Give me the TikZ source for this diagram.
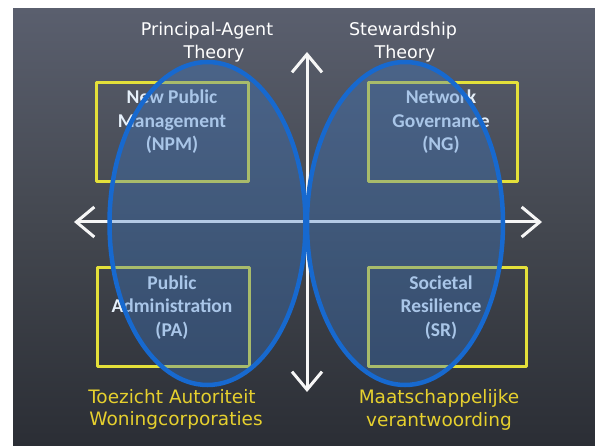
\documentclass[tikz,border=0pt]{standalone}
\usepackage{fontspec}
\setmainfont{Carlito}
\newfontfamily\chalkfont{DejaVu Sans}
\usetikzlibrary{arrows.meta,shapes.geometric}
\definecolor{boardtop}{HTML}{5A5F6E}
\definecolor{boardmid}{HTML}{43474F}
\definecolor{boardbot}{HTML}{2B2E35}
\definecolor{chalkyellow}{HTML}{E4E03A}
\definecolor{labelyellow}{HTML}{E6D02E}
\definecolor{ovalblue}{HTML}{1769CF}
\definecolor{ovalfill}{HTML}{3A78C8}
\definecolor{boxtext}{HTML}{E6F0FA}
\tikzset{
  quad/.style={draw=chalkyellow, line width=3pt, line join=round, inner sep=0pt, outer sep=0pt},
  quadtext/.style={text=boxtext, align=center, inner sep=0pt, font=\fontsize{19.5}{23.5}\selectfont\bfseries},
  theory/.style={text=white, inner sep=0pt, font=\chalkfont\fontsize{17.5}{20}\selectfont},
  society/.style={text=labelyellow, inner sep=0pt, font=\chalkfont\fontsize{18.5}{20}\selectfont},
  axis/.style={draw=white!93!gray, line width=3pt,
    {Straight Barb[length=18pt,width=30pt,line width=3pt]}-{Straight Barb[length=18pt,width=30pt,line width=3pt]}},
  oval/.style={ellipse, draw=ovalblue, line width=4.5pt, fill=ovalfill, fill opacity=0.35, inner sep=0pt, outer sep=0pt,
    minimum width=196pt, minimum height=323pt},
}
\begin{document}
\begin{tikzpicture}[x=1pt,y=-1pt]
\useasboundingbox (0,0) rectangle (595,446);
\fill[white] (0,0) rectangle (595,446);
\shade[top color=boardtop, bottom color=boardbot, middle color=boardmid] (13,9) rectangle (595,446);

% axes
\coordinate (hl) at (74,222);
\coordinate (hr) at (542,222);
\coordinate (vt) at (307,52);
\coordinate (vb) at (307,392);
\draw[axis] (hl) -- (hr);
\draw[axis] (vb) -- (vt);

% quadrant boxes
\node[quad, minimum width=152pt, minimum height=99pt] (npm) at (172,132.5) {};
\node[quad, minimum width=149pt, minimum height=99pt] (ng) at (442.5,132.5) {};
\node[quad, minimum width=152pt, minimum height=99pt] (pa) at (173,317.5) {};
\node[quad, minimum width=158pt, minimum height=99pt] (sr) at (447,317.5) {};

\node[quadtext] (npmt) at (172,122) {New Public\\Management\\(NPM)};
\node[quadtext] (ngt) at (441,122) {Network\\Governance\\(NG)};
\node[quadtext] (pat) at (172,307.5) {Public\\Administration\\(PA)};
\node[quadtext] (srt) at (441,307.5) {Societal\\Resilience\\(SR)};

% ovals
\node[oval] (left) at (207.5,223.5) {};
\node[oval] (right) at (405,223.5) {};

% titles
\node[theory] (pa1) at (207,31) {Principal-Agent};
\node[theory] (pa2) at (214,54) {Theory};
\node[theory] (st1) at (403,31) {Stewardship};
\node[theory] (st2) at (405,54) {Theory};

\node[society] (ta1) at (172,397) {Toezicht Autoriteit};
\node[society] (ta2) at (176,420) {Woningcorporaties};
\node[society] (mv1) at (439,398) {Maatschappelijke};
\node[society] (mv2) at (439,421) {verantwoording};
\end{tikzpicture}
\end{document}
